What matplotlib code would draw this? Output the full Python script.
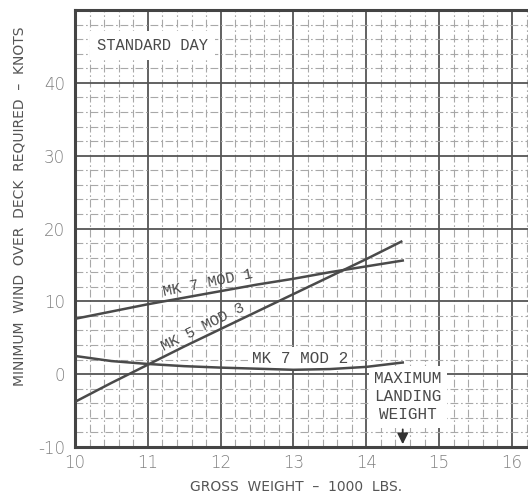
import matplotlib.pyplot as plt
from matplotlib.ticker import MultipleLocator

plt.rcParams['axes.unicode_minus'] = False

# curves (gross weight in 1000 lbs, wind in knots)
mk7mod1_x = [10.0, 10.5, 11.0, 11.5, 12.0, 12.5, 13.0, 13.5, 14.0, 14.5]
mk7mod1_y = [7.6, 8.6, 9.6, 10.5, 11.4, 12.3, 13.1, 14.0, 14.8, 15.6]

mk5mod3_x = [10.0, 10.5, 11.0, 11.5, 12.0, 12.5, 13.0, 13.5, 14.0, 14.48]
mk5mod3_y = [-3.8, -1.2, 1.3, 3.8, 6.2, 8.6, 11.0, 13.4, 15.8, 18.2]

mk7mod2_x = [10.0, 10.5, 11.0, 11.5, 12.0, 12.5, 13.0, 13.5, 14.0, 14.5]
mk7mod2_y = [2.5, 1.8, 1.4, 1.1, 0.9, 0.75, 0.6, 0.7, 1.0, 1.6]

x_ticks = [10, 11, 12, 13, 14, 15, 16]
y_ticks = [-10, 0, 10, 20, 30, 40]
max_landing_weight = 14.5

ink = '#4a4a4a'
label_font = 'Liberation Mono'

fig = plt.figure(figsize=(5.28, 4.93), dpi=100)
ax = fig.add_axes([75 / 528, 46 / 493, 453 / 528, 437 / 493])
ax.set_xlim(10, 16.22)
ax.set_ylim(-10, 50)

ax.xaxis.set_major_locator(plt.FixedLocator(x_ticks))
ax.yaxis.set_major_locator(plt.FixedLocator(y_ticks))
ax.xaxis.set_minor_locator(MultipleLocator(0.2))
ax.yaxis.set_minor_locator(MultipleLocator(2))
ax.grid(which='major', color='#555555', linewidth=1.3)
ax.grid(which='minor', color='#a8a8a8', linewidth=0.8, linestyle=(0, (7, 2.5, 1.5, 2.5)))
ax.set_axisbelow(True)
ax.tick_params(which='both', length=0)
ax.tick_params(axis='x', pad=5, labelsize=12, labelcolor='#808080')
ax.tick_params(axis='y', pad=7, labelsize=12, labelcolor='#808080')
for lab in ax.get_xticklabels() + ax.get_yticklabels():
    lab.set_fontfamily('DejaVu Sans')
    lab.set_fontweight('light')

for side in ['left', 'bottom', 'top']:
    ax.spines[side].set_linewidth(2.2)
    ax.spines[side].set_color('#444444')
ax.spines['right'].set_visible(False)

for xs, ys in [(mk7mod1_x, mk7mod1_y), (mk5mod3_x, mk5mod3_y), (mk7mod2_x, mk7mod2_y)]:
    ax.plot(xs, ys, color=ink, linewidth=1.8, zorder=4)

box = dict(facecolor='white', edgecolor='none', pad=3)
ax.text(11.07, 45.1, 'STANDARD DAY', family=label_font, fontsize=11.2, color=ink,
        ha='center', va='center', bbox=dict(facecolor='white', edgecolor='none', pad=5), zorder=3)
ax.text(11.83, 12.5, 'MK 7 MOD 1', family=label_font, fontsize=11, color=ink,
        ha='center', va='center', rotation=11.5, zorder=3)
ax.text(11.76, 6.5, 'MK 5 MOD 3', family=label_font, fontsize=11, color=ink,
        ha='center', va='center', rotation=26.5, zorder=3)
ax.text(13.09, 2.1, 'MK 7 MOD 2', family=label_font, fontsize=11.5, color=ink,
        ha='center', va='center', bbox=box, zorder=3)
ax.text(14.57, -3.1, 'MAXIMUM\nLANDING\nWEIGHT', family=label_font, fontsize=11.5, color=ink,
        ha='center', va='center', linespacing=1.25,
        bbox=dict(facecolor='white', edgecolor='none', pad=4), zorder=3)
ax.annotate('', xy=(max_landing_weight, -10), xytext=(max_landing_weight, -7.2),
            arrowprops=dict(arrowstyle='-|>', color='#333333', lw=1.3, mutation_scale=16),
            zorder=5)

fig.text(296 / 528, 1 - 487 / 493, 'GROSS  WEIGHT  –  1000  LBS.',
         ha='center', va='center', fontsize=10, color='#555555', family='DejaVu Sans')
fig.text(20 / 528, 1 - 206 / 493, 'MINIMUM  WIND  OVER  DECK  REQUIRED  –  KNOTS',
         ha='center', va='center', rotation=90, fontsize=10, color='#555555',
         family='DejaVu Sans')

fig.savefig('out.png', dpi=100)
